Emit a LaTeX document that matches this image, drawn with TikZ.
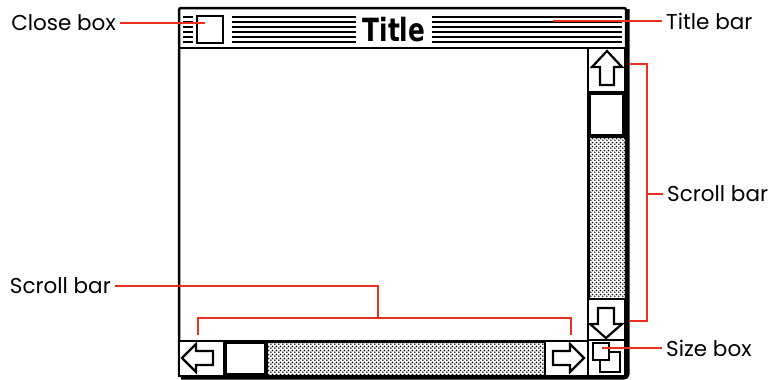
\documentclass[tikz,border=0pt]{standalone}
\usepackage{fontspec}
\setmainfont{Poppins}
\newfontfamily\titlefont{DejaVu Sans Condensed}
\usetikzlibrary{patterns}
\definecolor{callred}{RGB}{236,48,32}
\pgfdeclarepatternformonly{macdots}{\pgfqpoint{0pt}{0pt}}{\pgfqpoint{3.6pt}{3.6pt}}{\pgfqpoint{3.6pt}{3.6pt}}{
    \pgfpathcircle{\pgfqpoint{0.9pt}{0.9pt}}{0.95pt}
    \pgfpathcircle{\pgfqpoint{2.7pt}{2.7pt}}{0.95pt}
    \pgfusepath{fill}
}

\begin{document}
\begin{tikzpicture}[x=1pt, y=-1pt,
    callout/.style={callred, line width=1.8pt},
    lbl/.style={font=\fontsize{21.5}{23}\selectfont, inner sep=4pt},
    part/.style={draw, line width=2.2pt, fill=white, line join=miter}]
    \useasboundingbox (0,0) rectangle (769,380);

    % window frame with shadow on the right and at the bottom
    \draw[line width=5pt, rounded corners=3pt] (627,9) -- (627,377) -- (181,377);
    \filldraw[fill=white, line width=2.5pt, rounded corners=2pt] (179,8) rectangle (626,376);
    \draw[line width=2.5pt] (179,48) -- (626,48);

    % title bar stripes
    \foreach \y in {17,22,...,42} {
        \draw[line width=1.8pt] (183,\y) -- (193,\y);
        \draw[line width=1.8pt] (232,\y) -- (356,\y);
        \draw[line width=1.8pt] (432,\y) -- (622,\y);
    }
    \node[font=\titlefont\bfseries\fontsize{32}{32}\selectfont, xscale=0.86, inner sep=0pt] (title) at (394,30) {Title};

    % close box
    \node[part, minimum width=26pt, minimum height=27pt, inner sep=0pt] (closebox) at (210,29.5) {};

    % vertical scroll bar
    \fill[pattern=macdots] (588,137) rectangle (625,298);
    \draw[line width=3pt] (588,48) -- (588,376);
    \draw[part, line width=2.5pt] (588,48) rectangle (625,92);
    \draw[part, line width=3.5pt] (589.5,93.5) rectangle (623.5,136);
    \draw[part, line width=2.5pt] (588,299) rectangle (625,340);
    \draw[part] (607,51) -- (622,67) -- (614,67) -- (614,85) -- (600,85)
        -- (600,67) -- (592,67) -- cycle;
    \draw[part] (606,338) -- (622,324) -- (614,324) -- (614,308) -- (598,308)
        -- (598,324) -- (590,324) -- cycle;

    % horizontal scroll bar
    \fill[pattern=macdots] (266,342) rectangle (545,375);
    \draw[line width=3pt] (179,341) -- (626,341);
    \draw[part, line width=2.5pt] (179,341) rectangle (224,376);
    \draw[part, line width=3.5pt] (225.5,342.5) rectangle (266,375);
    \draw[part, line width=2.5pt] (545,341) rectangle (588,376);
    \draw[part] (182,358) -- (196,344) -- (196,351) -- (213,351) -- (213,365)
        -- (196,365) -- (196,372) -- cycle;
    \draw[part] (584,358) -- (570,344) -- (570,351) -- (553,351) -- (553,365)
        -- (570,365) -- (570,372) -- cycle;

    % size box
    \draw[part, line width=2.5pt] (588,340) rectangle (625,376);
    \draw[part] (600,352) rectangle (620,372);
    \draw[part] (593,343) rectangle (609,360);

    % labels
    \node[lbl, anchor=east] (closelbl) at (120,23) {Close box};
    \node[lbl, anchor=west] (titlelbl) at (662,21) {Title bar};
    \node[lbl, anchor=west] (vscrolllbl) at (663,194) {Scroll bar};
    \node[lbl, anchor=west] (sizelbl) at (662,348) {Size box};
    \node[lbl, anchor=east] (hscrolllbl) at (115,286) {Scroll bar};

    \coordinate (closept) at (205,23);
    \coordinate (titlept) at (553,21);
    \coordinate (vtop) at (630,64);
    \coordinate (vbot) at (630,321);
    \coordinate (vmid) at (647,194);
    \coordinate (sizept) at (602,348);
    \coordinate (hmid) at (378,318);
    \coordinate (hleft) at (198,335);
    \coordinate (hright) at (571,335);

    % callouts
    \draw[callout] (closelbl.east) -- (closept);
    \draw[callout] (titlept) -- (titlelbl.west);
    \draw[callout] (vtop) -| (vmid) |- (vbot);
    \draw[callout] (vmid) -- (vscrolllbl.west);
    \draw[callout] (sizept) -- (sizelbl.west);
    \draw[callout] (hscrolllbl.east) -| (hmid);
    \draw[callout] (hleft) |- (hmid) -| (hright);
\end{tikzpicture}
\end{document}
